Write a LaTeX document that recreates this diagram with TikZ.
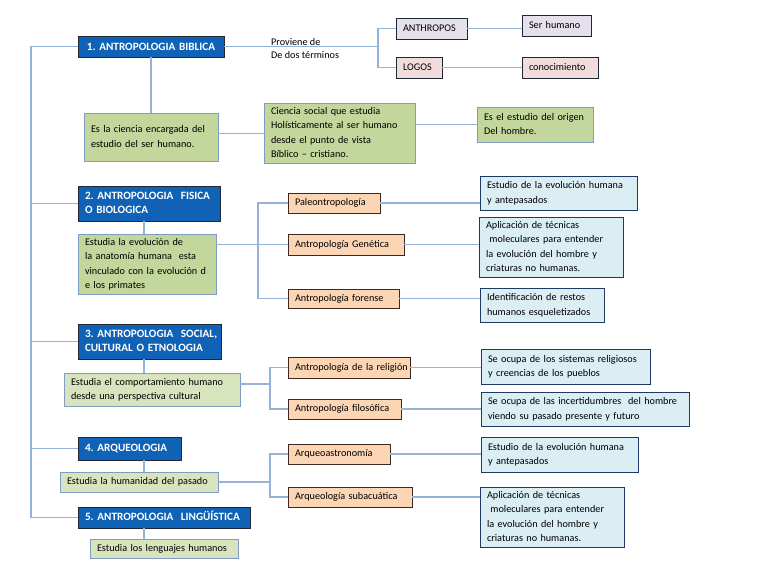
\documentclass[tikz,border=0pt]{standalone}
\usepackage{fontspec}
\setmainfont{Carlito}
\definecolor{hdrblue}{RGB}{16,98,182}
\definecolor{hdrborder}{RGB}{30,40,55}
\definecolor{grn}{RGB}{195,214,155}
\definecolor{grnlt}{RGB}{216,228,190}
\definecolor{grnborder}{RGB}{126,156,196}
\definecolor{org}{RGB}{252,213,181}
\definecolor{orgborder}{RGB}{60,40,30}
\definecolor{lblue}{RGB}{219,238,244}
\definecolor{lbborder}{RGB}{31,56,100}
\definecolor{lav}{RGB}{230,224,236}
\definecolor{pnk}{RGB}{242,220,219}
\definecolor{conn}{RGB}{149,179,215}
\newcommand\bodyfont{\fontsize{10.2}{13.5}\selectfont\frenchspacing}
\newcommand\hdrfont{\fontsize{11.2}{13}\selectfont\bfseries\frenchspacing}
\newcommand\tl[1]{\begin{tabular}{@{}l@{}}#1\end{tabular}}
\renewcommand\arraystretch{1.08}
\newcommand\boxat[7]{%
  \pgfmathsetmacro\bw{#5-#3}\pgfmathsetmacro\bh{#6-#4}\pgfmathsetmacro\tw{#5-#3-14}%
  \node[#1, anchor=north west, minimum width=\bw pt, minimum height=\bh pt, text width=\tw pt] (#2) at (#3,#4) {#7};}
\tikzset{
  basebox/.style={draw, line width=0.9pt, outer sep=0pt, inner xsep=7pt, inner ysep=1pt, align=left, font=\bodyfont, text=black},
  hdrbox/.style={basebox, fill=hdrblue, draw=hdrborder, line width=1pt, text=white, font=\hdrfont},
  grnbox/.style={basebox, fill=grn, draw=grnborder},
  grnltbox/.style={basebox, fill=grnlt, draw=grnborder},
  orgbox/.style={basebox, fill=org, draw=orgborder},
  lbbox/.style={basebox, fill=lblue, draw=lbborder},
  lavbox/.style={basebox, fill=lav, draw=hdrborder},
  pnkbox/.style={basebox, fill=pnk, draw=hdrborder},
  conn/.style={draw=conn, line width=1.2pt},
  plain/.style={font=\bodyfont, inner sep=0pt, anchor=west}
}
\begin{document}
\begin{tikzpicture}[x=1pt,y=-1pt]
\fill[white] (0,0) rectangle (768,576);
\useasboundingbox (0,0) rectangle (768,576);

% section 1
\boxat{hdrbox, align=center}{b1}{78}{36}{224}{57}{1. ANTROPOLOGIA BIBLICA}
\boxat{lavbox}{anth}{396}{18}{467}{39}{\tl{ANTHROPOS}}
\boxat{lavbox}{ser}{522}{15}{591}{36}{\tl{Ser humano}}
\boxat{pnkbox}{logos}{396}{57}{442}{78}{\tl{LOGOS}}
\boxat{pnkbox}{cono}{522}{57}{598}{78}{\tl{conocimiento}}
\boxat{grnbox}{esla}{84}{113}{218}{161}{\tl{Es la ciencia encargada del\\estudio del ser humano.}}
\boxat{grnbox}{ciencia}{264}{103}{415}{162}{\tl{Ciencia social que estudia\\Holísticamente al ser humano\\desde el punto de vista\\Bíblico -- cristiano.}}
\boxat{grnbox}{estorig}{477}{107}{593}{142}{\tl{Es el estudio del origen\\Del hombre.}}
\node[plain] (prov) at (271,42) {Proviene de};
\node[plain] (dos) at (271,55) {De dos términos};

% section 2
\boxat{hdrbox}{b2}{78}{186}{220}{221}{\tl{2. ANTROPOLOGIA\ \ FISICA\\O BIOLOGICA}}
\boxat{grnbox}{evo}{78}{234}{216}{293}{\tl{Estudia la evolución de\\la anatomía humana\ \ esta\\vinculado con la evolución d\\e los primates}}
\boxat{orgbox}{paleo}{288}{193}{380}{213}{\tl{Paleontropología}}
\boxat{orgbox}{gen}{288}{234}{404}{255}{\tl{Antropología Genética}}
\boxat{orgbox}{fore}{288}{289}{399}{308}{\tl{Antropología forense}}
\boxat{lbbox}{bl1}{480}{176}{637}{210}{\tl{Estudio de la evolución humana\\y antepasados}}
\boxat{lbbox}{apl1}{479}{217}{623}{277}{\tl{Aplicación de técnicas\\\ moleculares para entender\\la evolución del hombre y\\criaturas no humanas.}}
\boxat{lbbox}{ident}{480}{288}{604}{322}{\tl{Identificación de restos\\humanos esqueletizados}}

% section 3
\boxat{hdrbox}{b3}{78}{324}{221}{359}{\tl{3. ANTROPOLOGIA\ \ SOCIAL,\\CULTURAL O ETNOLOGIA}}
\boxat{grnltbox}{comp}{64}{373}{240}{406}{\tl{Estudia el comportamiento humano\\desde una perspectiva cultural}}
\boxat{orgbox}{rel}{288}{357}{410}{378}{\tl{Antropología de la religión}}
\boxat{orgbox}{filo}{288}{399}{401}{419}{\tl{Antropología filosófica}}
\boxat{lbbox}{sis}{481}{349}{650}{384}{\tl{Se ocupa de los sistemas religiosos\\y creencias de los pueblos}}
\boxat{lbbox}{inc}{481}{392}{689}{426}{\tl{Se ocupa de las incertidumbres\ \ del hombre\\viendo su pasado presente y futuro}}

% section 4
\boxat{hdrbox}{b4}{78}{437}{181}{460}{\tl{4. ARQUEOLOGIA}}
\boxat{grnltbox}{hum}{60}{472}{218}{492}{\tl{Estudia la humanidad del pasado}}
\boxat{orgbox}{arqa}{288}{444}{390}{464}{\tl{Arqueoastronomía}}
\boxat{orgbox}{sub}{288}{487}{412}{507}{\tl{Arqueología subacuática}}
\boxat{lbbox}{est2}{481}{437}{638}{472}{\tl{Estudio de la evolución humana\\y antepasados}}
\boxat{lbbox}{apl2}{480}{487}{624}{546}{\tl{Aplicación de técnicas\\\ moleculares para entender\\la evolución del hombre y\\criaturas no humanas.}}

% section 5
\boxat{hdrbox}{b5}{78}{507}{250}{528}{\tl{5. ANTROPOLOGIA\ \ LINGÜÍSTICA}}
\boxat{grnltbox}{leng}{90}{539}{238}{558}{\tl{Estudia los lenguajes humanos}}

% connectors
\coordinate (sp) at (31,0);
\coordinate (v) at (144,0);
\coordinate (j1) at (378,0);
\coordinate (j2) at (258,0);
\coordinate (j3) at (270,0);
\draw[conn] (b1.west) -- (b1.west -| sp) -- (b5.west -| sp) -- (b5.west);
\foreach \n in {b2,b3,b4} \draw[conn] (\n.west -| sp) -- (\n.west);
\draw[conn] (b1.east) -- (b1.east -| j1);
\draw[conn] (anth.west) -- (anth.west -| j1) -- (logos.west -| j1) -- (logos.west);
\draw[conn] (anth.east) -- (anth.east -| ser.west);
\draw[conn] (logos.east) -- (cono.west);
\draw[conn] (b1.south) -- (esla.north);
\draw[conn] (ciencia.west -| esla.east) -- (ciencia.west);
\draw[conn] (estorig.west -| ciencia.east) -- (estorig.west);

\draw[conn] (b2.south -| v) -- (evo.north -| v);
\draw[conn] (gen.west -| evo.east) -- (gen.west);
\draw[conn] (paleo.west) -- (paleo.west -| j2) -- (fore.west -| j2) -- (fore.west);
\draw[conn] (paleo.east) -- (paleo.east -| bl1.west);
\draw[conn] (gen.east) -- (gen.east -| apl1.west);
\draw[conn] (fore.east) -- (fore.east -| ident.west);

\draw[conn] (b3.south -| v) -- (comp.north -| v);
\draw[conn] ([yshift=5.5pt]comp.east) -- ([yshift=5.5pt]comp.east -| j3);
\draw[conn] (rel.west) -- (rel.west -| j3) -- (filo.west -| j3) -- (filo.west);
\draw[conn] (rel.east) -- (rel.east -| sis.west);
\draw[conn] (filo.east) -- (filo.east -| inc.west);

\draw[conn] (b4.south -| v) -- (hum.north -| v);
\draw[conn] (hum.east) -- (hum.east -| j3);
\draw[conn] (arqa.west) -- (arqa.west -| j3) -- (sub.west -| j3) -- (sub.west);
\draw[conn] (arqa.east) -- (arqa.east -| est2.west);
\draw[conn] (sub.east) -- (sub.east -| apl2.west);

\draw[conn] (b5.south -| v) -- (leng.north -| v);
\end{tikzpicture}
\end{document}
